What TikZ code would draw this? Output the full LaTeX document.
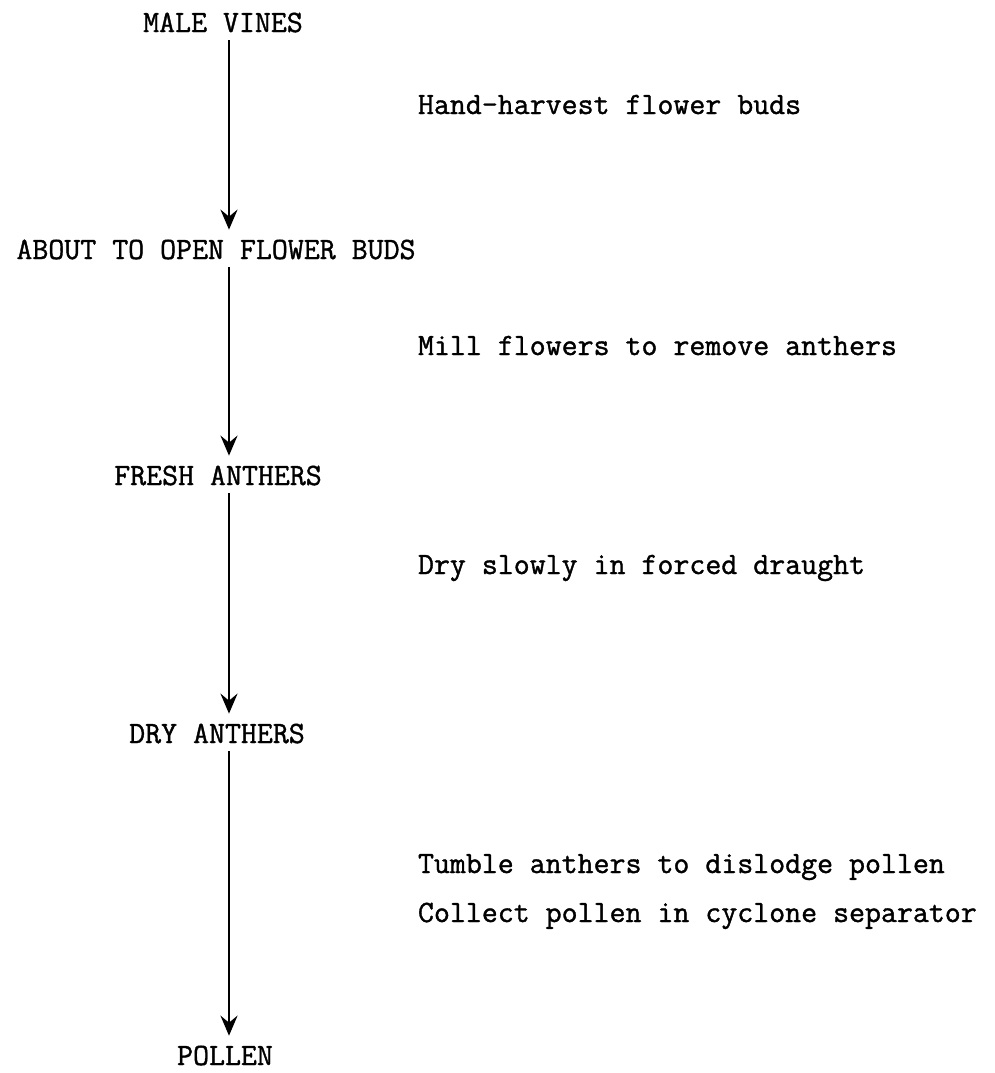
\documentclass[tikz,border=0pt]{standalone}
\usepackage{fontspec}
\setmonofont{Latin Modern Mono}[FakeBold=1.2]
\usetikzlibrary{arrows.meta}
\begin{document}
\begin{tikzpicture}[x=1bp,y=-1bp,
  every node/.style={inner sep=0pt, outer sep=0pt, font=\fontsize{31bp}{37bp}\selectfont\ttfamily},
  state/.style={anchor=base},
  act/.style={anchor=base west},
  arr/.style={line width=2.6bp, -{Stealth[length=20bp,width=17bp,inset=7bp]}, shorten <=8bp, shorten >=10bp}]
\useasboundingbox (0,0) rectangle (995,1073);
\coordinate (axis) at (229,0);
\node[state] (mv) at (223,32) {MALE VINES};
\node[state] (ab) at (216,259) {ABOUT TO OPEN FLOWER BUDS};
\node[state] (fa) at (218,485) {FRESH ANTHERS};
\node[state] (da) at (217,743) {DRY ANTHERS};
\node[state] (po) at (225,1065) {POLLEN};
\node[act] (l1) at (418,114) {Hand-harvest flower buds};
\node[act] (l2) at (418,355) {Mill flowers to remove anthers};
\node[act] (l3) at (418,574) {Dry slowly in forced draught};
\node[act] (l4) at (418,873) {Tumble anthers to dislodge pollen};
\node[act] (l5) at (418,922) {Collect pollen in cyclone separator};
\draw[arr] (mv.south -| axis) -- (ab.north -| axis);
\draw[arr] (ab.south -| axis) -- (fa.north -| axis);
\draw[arr] (fa.south -| axis) -- (da.north -| axis);
\draw[arr] (da.south -| axis) -- (po.north -| axis);
\end{tikzpicture}
\end{document}
